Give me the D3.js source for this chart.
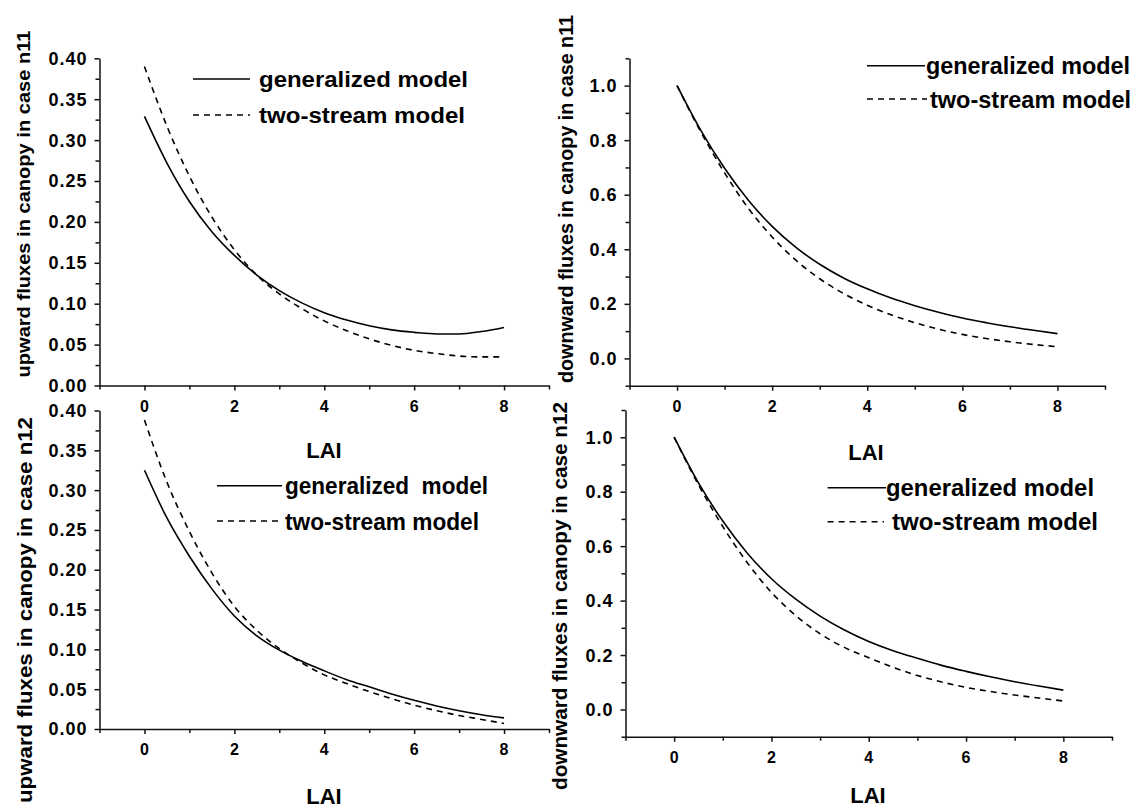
<!DOCTYPE html>
<html>
<head>
<meta charset="utf-8">
<script src="https://cdn.jsdelivr.net/npm/d3@7"></script>
<style>
  body { margin: 0; background: #fff; }
  text { font-family: "Liberation Sans", Arial, sans-serif; font-weight: bold; fill: #000; }
</style>
</head>
<body>
<div id="chart"></div>
<script>
// LAI sample points
const lai = [0, 0.5, 1, 1.5, 2, 2.5, 3, 3.5, 4, 4.5, 5, 5.5, 6, 6.5, 7, 7.5, 8];

// case n11
const upN11Gen = [0.329, 0.272, 0.225, 0.188, 0.159, 0.135, 0.116, 0.101, 0.089, 0.080, 0.073, 0.068, 0.065, 0.063, 0.063, 0.066, 0.071];
const upN11Two = [0.390, 0.317, 0.256, 0.206, 0.166, 0.135, 0.112, 0.094, 0.079, 0.067, 0.057, 0.049, 0.043, 0.039, 0.036, 0.035, 0.035];
const downN11Gen = [1.0, 0.836, 0.697, 0.580, 0.484, 0.407, 0.345, 0.295, 0.255, 0.221, 0.193, 0.169, 0.148, 0.131, 0.116, 0.103, 0.091];
const downN11Two = [1.0, 0.830, 0.680, 0.550, 0.445, 0.360, 0.292, 0.238, 0.195, 0.160, 0.131, 0.107, 0.088, 0.073, 0.061, 0.051, 0.043];

// case n12
const upN12Gen = [0.325, 0.265, 0.217, 0.176, 0.142, 0.117, 0.099, 0.085, 0.073, 0.062, 0.053, 0.044, 0.036, 0.029, 0.023, 0.018, 0.014];
const upN12Two = [0.388, 0.310, 0.248, 0.196, 0.154, 0.124, 0.101, 0.083, 0.068, 0.057, 0.047, 0.038, 0.030, 0.023, 0.017, 0.012, 0.007];
const downN12Gen = [1.0, 0.832, 0.692, 0.575, 0.480, 0.405, 0.343, 0.292, 0.250, 0.216, 0.188, 0.162, 0.140, 0.120, 0.102, 0.086, 0.071];
const downN12Two = [1.0, 0.825, 0.672, 0.540, 0.430, 0.345, 0.278, 0.228, 0.190, 0.155, 0.125, 0.101, 0.081, 0.066, 0.053, 0.042, 0.031];

// ticks
const laiMajor = [0, 2, 4, 6, 8];
const laiMinor = [-1, 1, 3, 5, 7, 9];
const upMajor = [0, 0.05, 0.10, 0.15, 0.20, 0.25, 0.30, 0.35, 0.40];
const upMinor = [0.025, 0.075, 0.125, 0.175, 0.225, 0.275, 0.325, 0.375];
const downMajor = [0.0, 0.2, 0.4, 0.6, 0.8, 1.0];
const downMinor = [-0.1, 0.1, 0.3, 0.5, 0.7, 0.9, 1.1];

const legendNames = ['generalized model', 'two-stream model'];

const svg = d3.select('#chart').append('svg')
    .attr('width', 1138)
    .attr('height', 810);

// panel layout (pixel boxes of each plot frame)
const panels = [
    {
        gen: upN11Gen, two: upN11Two, yDomain: [0, 0.40], major: upMajor, minor: upMinor, fmt: '.2f',
        box: {left: 99.5, right: 549, top: 58.3, bottom: 385.5},
        ylabel: 'upward fluxes in canopy in case n11', ylab: {x: 30, y: 204, size: 19, len: 347},
        lai: {x: 324, y: 458},
        legend: {x1: 193, x2: 250, tx: [259, 259], ly: [79, 115], ty: [87, 123], size: 22, len: [209, 206],
                 names: legendNames}
    },
    {
        gen: downN11Gen, two: downN11Two, yDomain: [-0.1, 1.1], major: downMajor, minor: downMinor, fmt: '.1f',
        box: {left: 629.5, right: 1105, top: 58.3, bottom: 385.7},
        ylabel: 'downward fluxes in canopy in case n11', ylab: {x: 573, y: 199, size: 20, len: 368},
        lai: {x: 866, y: 460},
        legend: {x1: 867, x2: [925, 927], tx: [926, 930], ly: [65.7, 99], ty: [74, 107.5], size: 23.5, len: [204, 201],
                 names: legendNames}
    },
    {
        gen: upN12Gen, two: upN12Two, yDomain: [0, 0.40], major: upMajor, minor: upMinor, fmt: '.2f',
        box: {left: 99.5, right: 549, top: 410.5, bottom: 729},
        ylabel: 'upward fluxes in canopy in case n12', ylab: {x: 32, y: 610, size: 21, len: 386},
        lai: {x: 324, y: 804},
        legend: {x1: 217, x2: [282, 281], tx: [285, 285], ly: [485.7, 521], ty: [494, 529.5], size: 24, len: [203, 194],
                 names: ['generalized  model', 'two-stream model']}
    },
    {
        gen: downN12Gen, two: downN12Two, yDomain: [-0.1, 1.1], major: downMajor, minor: downMinor, fmt: '.1f',
        box: {left: 625.5, right: 1112, top: 410, bottom: 736.7},
        ylabel: 'downward fluxes in canopy in case n12', ylab: {x: 567, y: 596, size: 21, len: 388},
        lai: {x: 868, y: 803},
        legend: {x1: 827.6, x2: [886, 884], tx: [886, 892], ly: [487.7, 521.7], ty: [496, 530], size: 24, len: [208, 206],
                 names: legendNames}
    }
];

function drawPanel(p) {
    const b = p.box;
    const x = d3.scaleLinear().domain([-1, 9]).range([b.left, b.right]);
    const y = d3.scaleLinear().domain(p.yDomain).range([b.bottom, b.top]);

    // minor ticks
    svg.append('g')
        .attr('transform', 'translate(0,' + b.bottom + ')')
        .call(d3.axisBottom(x).tickValues(laiMinor).tickSize(4).tickSizeOuter(0).tickFormat(''))
        .call(g => g.select('.domain').remove());
    svg.append('g')
        .attr('transform', 'translate(' + b.left + ',0)')
        .call(d3.axisLeft(y).tickValues(p.minor).tickSize(4).tickSizeOuter(0).tickFormat(''))
        .call(g => g.select('.domain').remove());

    // major ticks + axis lines
    svg.append('g')
        .attr('transform', 'translate(0,' + b.bottom + ')')
        .call(d3.axisBottom(x).tickValues(laiMajor).tickSize(5).tickSizeOuter(0).tickFormat(''));
    svg.append('g')
        .attr('transform', 'translate(' + b.left + ',0)')
        .call(d3.axisLeft(y).tickValues(p.major).tickSize(5).tickSizeOuter(0).tickFormat(''));

    svg.selectAll('.domain, .tick line')
        .attr('stroke', '#111')
        .attr('stroke-width', 1.5);

    // tick labels
    svg.append('g').selectAll('text')
        .data(laiMajor)
        .enter().append('text')
        .attr('x', d => x(d))
        .attr('y', b.bottom + 26)
        .attr('text-anchor', 'middle')
        .style('font-size', '16px')
        .text(d => d);

    const fmt = d3.format(p.fmt);
    svg.append('g').selectAll('text')
        .data(p.major)
        .enter().append('text')
        .attr('x', b.left - 12)
        .attr('y', d => y(d))
        .attr('dy', '0.36em')
        .attr('text-anchor', 'end')
        .style('font-size', '18px')
        .style('letter-spacing', '1px')
        .text(d => fmt(d));

    // curves
    const line = d3.line()
        .x((d, i) => x(lai[i]))
        .y(d => y(d))
        .curve(d3.curveMonotoneX);

    svg.append('path')
        .attr('d', line(p.gen))
        .attr('fill', 'none')
        .attr('stroke', '#000')
        .attr('stroke-width', 1.6);

    svg.append('path')
        .attr('d', line(p.two))
        .attr('fill', 'none')
        .attr('stroke', '#000')
        .attr('stroke-width', 1.6)
        .attr('stroke-dasharray', '6,5');

    // axis titles
    svg.append('text')
        .attr('transform', 'translate(' + p.ylab.x + ',' + p.ylab.y + ') rotate(-90)')
        .attr('text-anchor', 'middle')
        .attr('textLength', p.ylab.len)
        .attr('lengthAdjust', 'spacingAndGlyphs')
        .style('font-size', p.ylab.size + 'px')
        .text(p.ylabel);

    svg.append('text')
        .attr('x', p.lai.x)
        .attr('y', p.lai.y)
        .attr('text-anchor', 'middle')
        .style('font-size', '22px')
        .text('LAI');

    // legend
    const L = p.legend;
    [0, 1].forEach(function (k) {
        const x2 = Array.isArray(L.x2) ? L.x2[k] : L.x2;
        svg.append('line')
            .attr('x1', L.x1).attr('x2', x2)
            .attr('y1', L.ly[k]).attr('y2', L.ly[k])
            .attr('stroke', '#000')
            .attr('stroke-width', 1.6)
            .attr('stroke-dasharray', k === 1 ? '6,5' : null);
        svg.append('text')
            .attr('x', L.tx[k])
            .attr('y', L.ty[k])
            .attr('textLength', L.len[k])
            .attr('lengthAdjust', 'spacingAndGlyphs')
            .style('white-space', 'pre')
            .style('font-size', L.size + 'px')
            .text(L.names[k]);
    });
}

panels.forEach(drawPanel);
</script>
</body>
</html>
